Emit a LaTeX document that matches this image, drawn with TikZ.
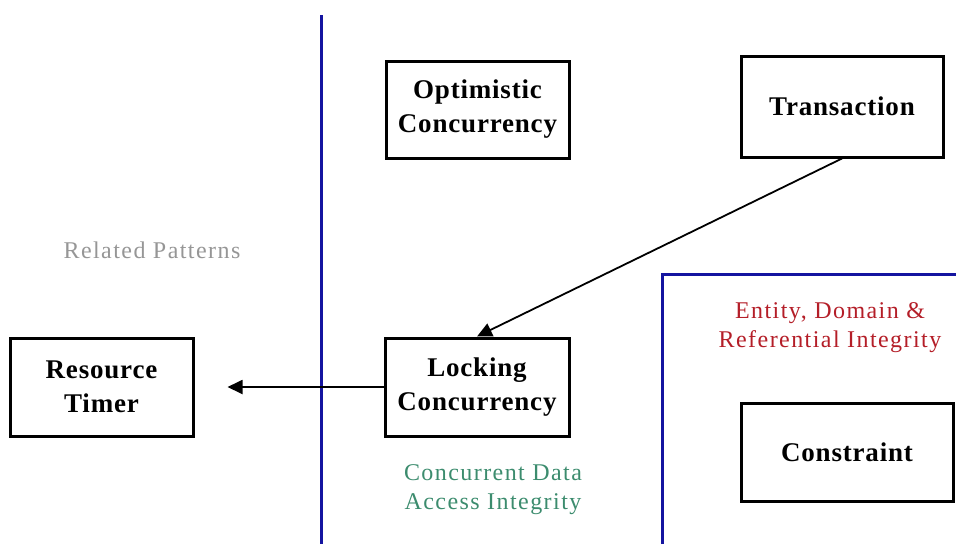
\documentclass[tikz,border=0pt]{standalone}
\usepackage{fontspec}
\setmainfont{Liberation Serif}
\newfontfamily\boxfont[LetterSpace=3]{Liberation Serif}
\newfontfamily\notefont[LetterSpace=6]{Liberation Serif}
\usetikzlibrary{arrows.meta}
\definecolor{wallblue}{RGB}{20,20,160}
\definecolor{notegray}{RGB}{150,150,150}
\definecolor{notered}{RGB}{180,30,40}
\definecolor{noteteal}{RGB}{60,140,110}
\tikzset{
  pattern/.style={draw=black, line width=3pt, fill=white, align=center,
    font=\boxfont\fontsize{27}{34}\selectfont\bfseries, inner sep=0pt},
  wall/.style={draw=wallblue, line width=3pt},
  note/.style={align=center, font=\notefont\fontsize{24}{29}\selectfont},
  link/.style={line width=1.8pt, -{Triangle[length=15pt,width=14pt]}}
}
\begin{document}
\begin{tikzpicture}[x=1pt,y=-1pt]
\useasboundingbox (0,0) rectangle (956,544);
% separators
\draw[wall] (321,15) -- (321,544);
\draw[wall] (662,544) -- (662,274) -- (956,274);
% patterns
\node[pattern, minimum width=183pt, minimum height=97pt] (optimistic) at (477.5,109.5) {Optimistic\\Concurrency};
\node[pattern, minimum width=202pt, minimum height=101pt] (transaction) at (842,106.5) {Transaction};
\node[pattern, minimum width=183pt, minimum height=98pt] (timer) at (101.5,387) {Resource\\Timer};
\node[pattern, minimum width=184pt, minimum height=98pt] (locking) at (477,387) {Locking\\Concurrency};
\node[pattern, minimum width=212pt, minimum height=98pt] (constraint) at (847,452) {Constraint};
% labels
\node[note, text=notegray] (related) at (152,250) {Related Patterns};
\node[note, text=notered] (entity) at (830,328) {Entity, Domain \&\\Referential Integrity};
\node[note, text=noteteal] (access) at (493,490) {Concurrent Data\\Access Integrity};
% links
\draw[link] (transaction.south) -- (locking.north);
\draw[link, shorten >=33pt] (locking.west) -- (timer.east);
\end{tikzpicture}
\end{document}
